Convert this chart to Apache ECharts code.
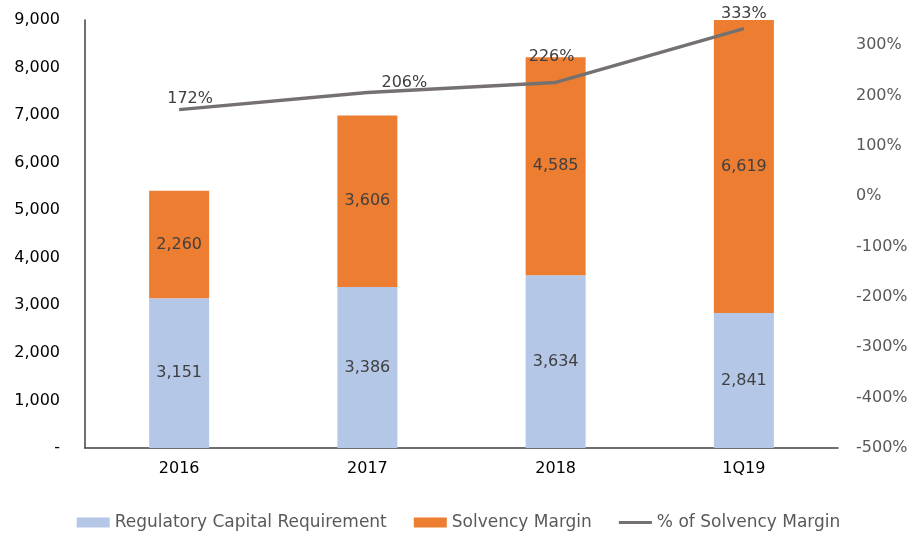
<!DOCTYPE html>
<html><head><meta charset="utf-8">
<script src="https://cdn.jsdelivr.net/npm/echarts@6/dist/echarts.min.js"></script>
<style>html,body{margin:0;padding:0;background:#fff}#c{width:917px;height:537px}</style>
</head><body><div id="c"></div>
<script>
const categories = ['2016', '2017', '2018', '1Q19'];
const regulatoryCapital = [3151, 3386, 3634, 2841];
const solvencyMargin = [2260, 3606, 4585, 6619];
const solvencyPct = [172, 206, 226, 333];
const seriesNames = ['Regulatory Capital Requirement', 'Solvency Margin', '% of Solvency Margin'];

const FONT = "'DejaVu Sans', Verdana, sans-serif";
const FS = 16;
const chart = echarts.init(document.getElementById('c'));
const fmtThousands = v => v === 0 ? '-' : v.toLocaleString('en-US');
const pctLabelOffsets = [[11, 1], [37, 2], [-4, -14], [0, -3]];

chart.setOption({
  animation: false,
  textStyle: { fontFamily: FONT },
  grid: { left: 85, right: 79, top: 20, bottom: 89 },
  legend: {
    bottom: 1, left: 'center', itemWidth: 33, itemHeight: 10, itemGap: 27,
    textStyle: { fontFamily: FONT, fontSize: 17, color: '#595959' },
    data: [
      { name: seriesNames[0], icon: 'rect' },
      { name: seriesNames[1], icon: 'rect' },
      { name: seriesNames[2], icon: 'path://M0,0 L0,0.01 L0.01,0.01 Z M0,3.5 L33,3.5 L33,6.5 L0,6.5 Z M33,10 L33,9.99 L32.99,9.99 Z', itemStyle: { color: '#767171' } }
    ]
  },
  xAxis: {
    type: 'category', data: categories,
    axisLine: { lineStyle: { color: '#404040', width: 1.5 } },
    axisTick: { show: false },
    axisLabel: { color: '#000', fontSize: FS, margin: 13, fontFamily: FONT }
  },
  yAxis: [
    {
      type: 'value', min: 0, max: 9000, interval: 1000,
      axisLine: { show: true, lineStyle: { color: '#404040', width: 1.5 } },
      axisTick: { show: false }, splitLine: { show: false },
      axisLabel: { color: '#000', fontSize: FS, margin: 25, formatter: fmtThousands, fontFamily: FONT }
    },
    {
      type: 'value', min: -500, max: 350, interval: 100,
      axisLine: { show: false }, axisTick: { show: false }, splitLine: { show: false },
      axisLabel: { color: '#595959', fontSize: FS, margin: 18, showMaxLabel: false,
        formatter: v => v + '%', fontFamily: FONT }
    }
  ],
  series: [
    {
      name: seriesNames[0], type: 'bar', stack: 'a', barWidth: 60,
      itemStyle: { color: '#B4C7E7' },
      label: { show: true, position: 'inside', color: '#404040', fontSize: FS, fontFamily: FONT,
        formatter: p => p.value.toLocaleString('en-US') },
      data: regulatoryCapital
    },
    {
      name: seriesNames[1], type: 'bar', stack: 'a', barWidth: 60,
      itemStyle: { color: '#ED7D31' },
      label: { show: true, position: 'inside', color: '#404040', fontSize: FS, fontFamily: FONT,
        formatter: p => p.value.toLocaleString('en-US') },
      data: solvencyMargin
    },
    {
      name: seriesNames[2], type: 'line', yAxisIndex: 1,
      symbol: 'circle', symbolSize: 0.1, showSymbol: true,
      lineStyle: { color: '#767171', width: 3.5 },
      itemStyle: { color: '#767171' },
      label: { show: true, position: 'top', color: '#404040', fontSize: FS, fontFamily: FONT,
        distance: 4, formatter: p => p.value + '%' },
      data: solvencyPct.map((v, i) => ({ value: v, label: { offset: pctLabelOffsets[i] } }))
    }
  ]
});
</script></body></html>
